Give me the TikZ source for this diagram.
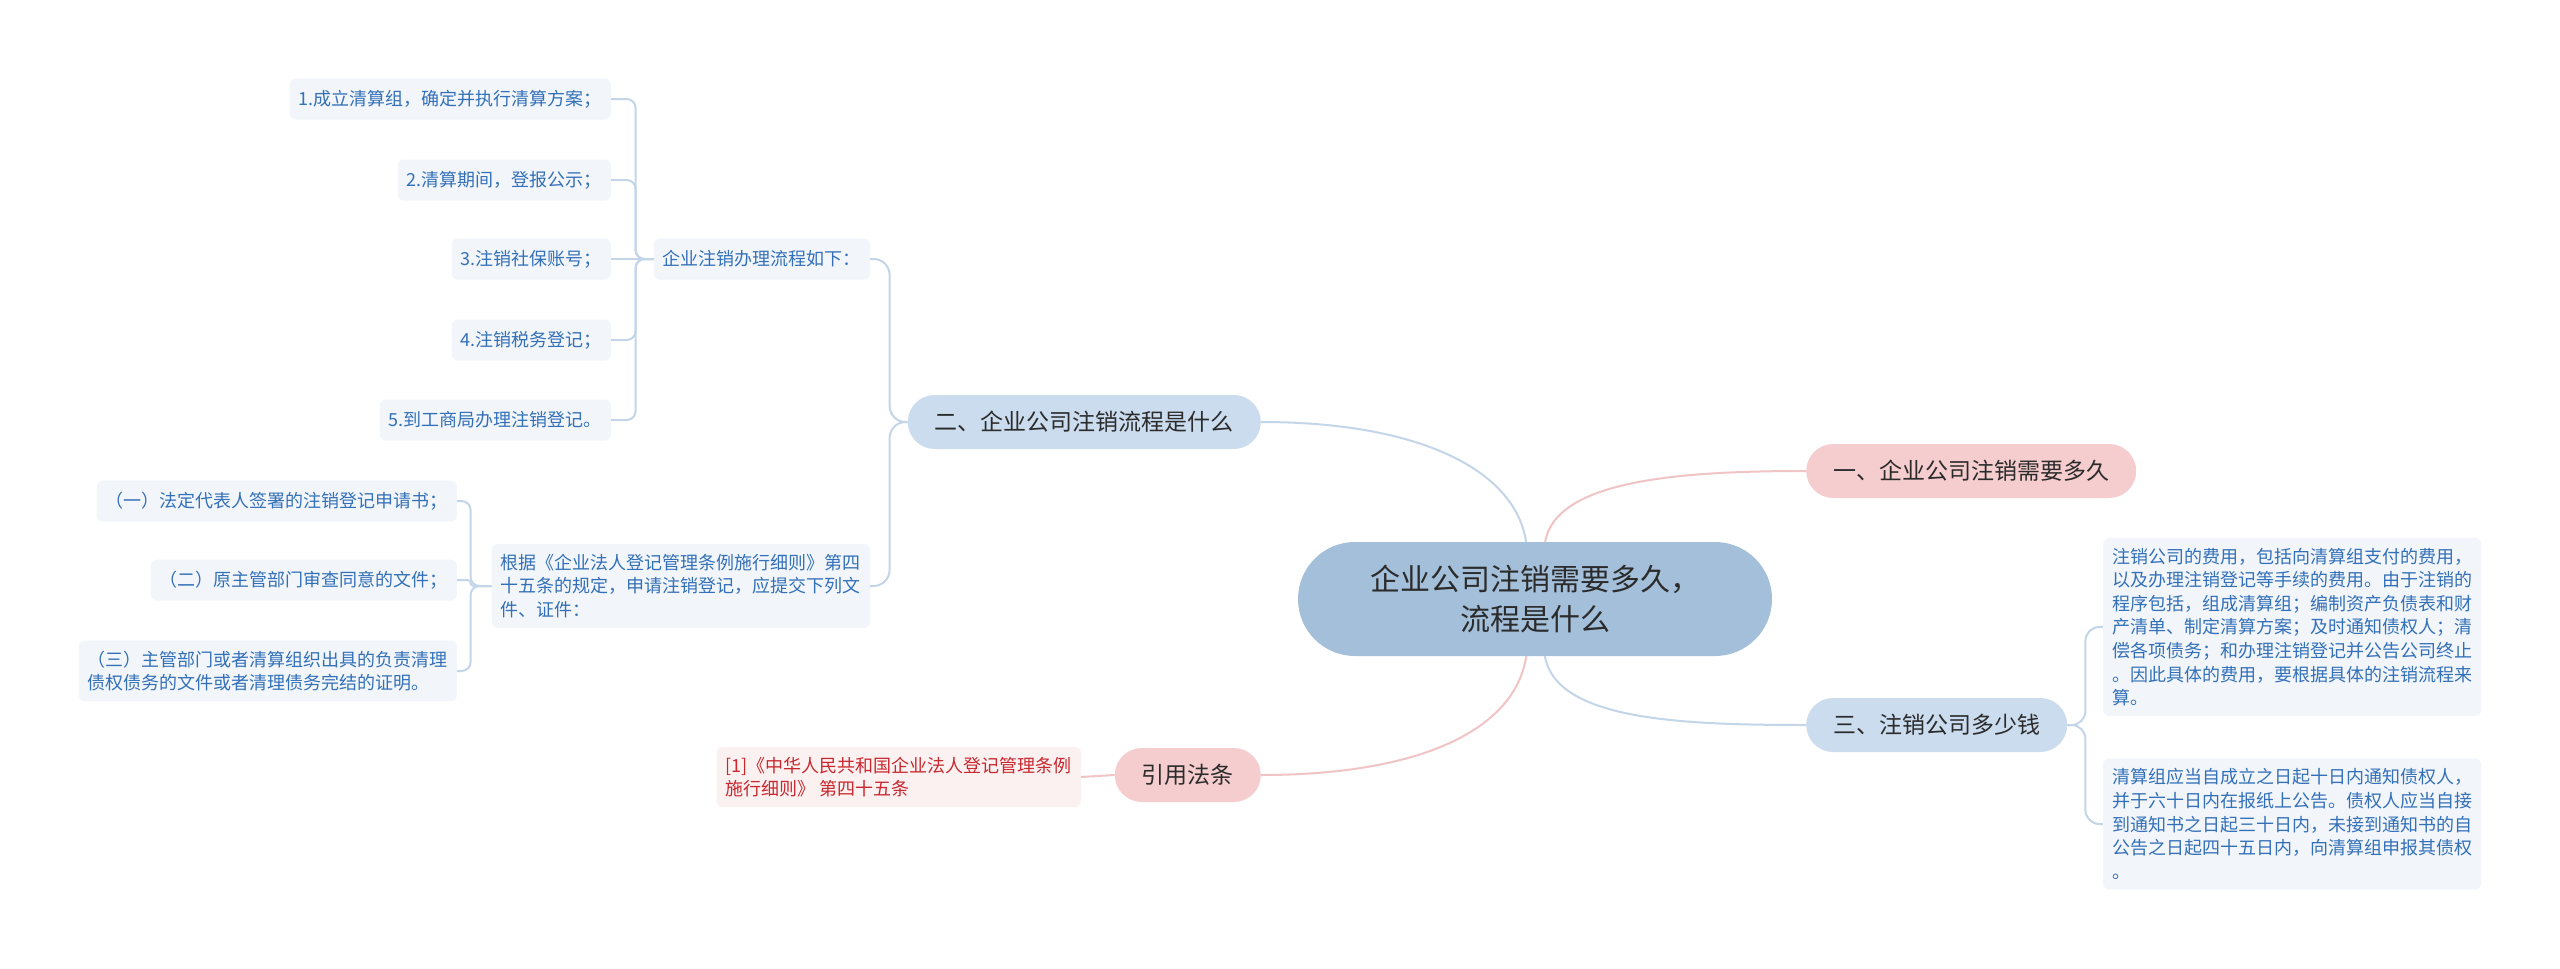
\documentclass[tikz,border=0pt]{standalone}
\usepackage{fontspec}
\setmainfont{Noto Sans CJK SC}
\usetikzlibrary{backgrounds}
\definecolor{rootfill}{HTML}{A3BFDA}
\definecolor{bluefill}{HTML}{CADCED}
\definecolor{pinkfill}{HTML}{F5CDCE}
\definecolor{leaffill}{HTML}{F2F6FB}
\definecolor{leaftext}{HTML}{3370B8}
\definecolor{reffill}{HTML}{FCF1F1}
\definecolor{reftext}{HTML}{C8282E}
\definecolor{linkblue}{HTML}{C3D5E8}
\definecolor{linkpink}{HTML}{F0C3C4}
\definecolor{darktext}{HTML}{2B2B2B}
\begin{document}
\begin{tikzpicture}[x=1pt,y=-1pt,
	rootbox/.style={fill=rootfill,text=darktext,rounded corners=57pt,minimum width=474pt,minimum height=114pt,align=center,font=\fontsize{30}{40}\selectfont},
	bluebox/.style={fill=bluefill,text=darktext,rounded corners=27pt,minimum height=54pt,inner xsep=27pt,font=\fontsize{23}{28}\selectfont},
	pinkbox/.style={bluebox,fill=pinkfill},
	leaf/.style={fill=leaffill,text=leaftext,rounded corners=6pt,minimum height=41pt,inner xsep=9pt,inner ysep=10pt,align=left,font=\fontsize{18}{23.6}\selectfont},
	refleaf/.style={leaf,fill=reffill,text=reftext},
	bluelink/.style={draw=linkblue,line width=2pt},
	pinklink/.style={draw=linkpink,line width=2pt}]
	\useasboundingbox (0,0) rectangle (2560,969);
	% centre and main branches
	\node[rootbox] (root) at (1535,599) {企业公司注销需要多久，\\流程是什么};
	\node[pinkbox,anchor=west] (b1) at (1806,471) {一、企业公司注销需要多久};
	\node[bluebox,anchor=east] (b2) at (1261,422) {二、企业公司注销流程是什么};
	\node[bluebox,anchor=west] (b3) at (1806,725) {三、注销公司多少钱};
	\node[pinkbox,anchor=east] (cite) at (1261,775) {引用法条};
	% flow steps
	\node[leaf,anchor=east] (flow) at (870,259) {企业注销办理流程如下：};
	\node[leaf,anchor=east] (s1) at (611,99) {1.成立清算组，确定并执行清算方案；};
	\node[leaf,anchor=east] (s2) at (611,180) {2.清算期间，登报公示；};
	\node[leaf,anchor=east] (s3) at (611,259) {3.注销社保账号；};
	\node[leaf,anchor=east] (s4) at (611,340) {4.注销税务登记；};
	\node[leaf,anchor=east] (s5) at (611,420) {5.到工商局办理注销登记。};
	% documents
	\node[leaf,anchor=east] (law) at (870,586) {根据《企业法人登记管理条例施行细则》第四\\十五条的规定，申请注销登记，应提交下列文\\件、证件：};
	\node[leaf,anchor=east] (d1) at (457,501) {（一）法定代表人签署的注销登记申请书；};
	\node[leaf,anchor=east] (d2) at (457,580) {（二）原主管部门审查同意的文件；};
	\node[leaf,anchor=east] (d3) at (457,671) {（三）主管部门或者清算组织出具的负责清理\\债权债务的文件或者清理债务完结的证明。};
	% costs
	\node[leaf,anchor=west] (t1) at (2103,627) {注销公司的费用，包括向清算组支付的费用，\\以及办理注销登记等手续的费用。由于注销的\\程序包括，组成清算组；编制资产负债表和财\\产清单、制定清算方案；及时通知债权人；清\\偿各项债务；和办理注销登记并公告公司终止\\。因此具体的费用，要根据具体的注销流程来\\算。};
	\node[leaf,anchor=west] (t2) at (2103,824) {清算组应当自成立之日起十日内通知债权人，\\并于六十日内在报纸上公告。债权人应当自接\\到通知书之日起三十日内，未接到通知书的自\\公告之日起四十五日内，向清算组申报其债权\\。};
	% reference
	\node[refleaf,anchor=east] (ref) at (1081,777) {[1]《中华人民共和国企业法人登记管理条例\\施行细则》 第四十五条};
	% links
	\begin{scope}[on background layer]
		\fill[white] (0,0) rectangle (2560,969);
		\draw[bluelink] (root) .. controls (1515,470) and (1420,422) .. (b2);
		\draw[pinklink] (root) .. controls (1556,480) and (1680,471) .. (b1);
		\draw[bluelink] (root) .. controls (1556,720) and (1680,725) .. (b3);
		\draw[pinklink] (root) .. controls (1515,730) and (1420,775) .. (cite);
		\draw[pinklink] (cite.west) -- (ref.east);
		\draw[bluelink,rounded corners=16pt] (b2.west) -- ++(-18,0) |- (flow.east);
		\draw[bluelink,rounded corners=16pt] (b2.west) -- ++(-18,0) |- (law.east);
		\foreach \n in {s1,s2,s4,s5}
			\draw[bluelink,rounded corners=9pt] (flow.west) -- ++(-18,0) |- (\n.east);
		\draw[bluelink] (flow.west) -- (s3.east);
		\foreach \n in {d1,d3}
			\draw[bluelink,rounded corners=9pt] (law.west) -- ++(-21,0) |- (\n.east);
		\draw[bluelink,rounded corners=3pt] (law.west) -- ++(-21,0) |- (d2.east);
		\foreach \n in {t1,t2}
			\draw[bluelink,rounded corners=14pt] (b3.east) -- ++(18,0) |- (\n.west);
	\end{scope}
\end{tikzpicture}
\end{document}
